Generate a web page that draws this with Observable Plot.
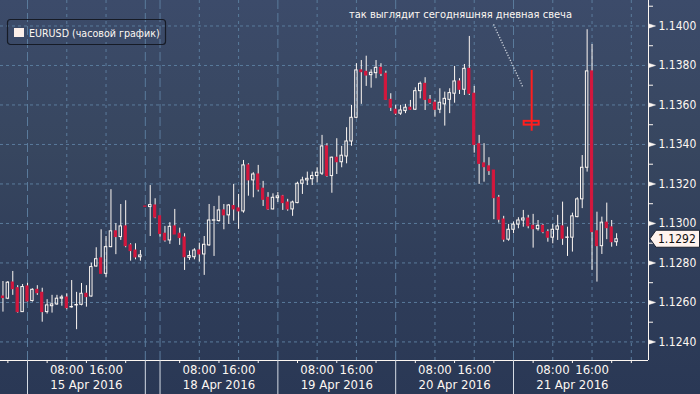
<!DOCTYPE html>
<html><head><meta charset="utf-8">
<script src="https://cdn.jsdelivr.net/npm/d3@7"></script>
<script src="https://cdn.jsdelivr.net/npm/@observablehq/plot@0.6"></script>
<style>
html,body{margin:0;padding:0;background:#2a3855;}
#chart{position:relative;width:700px;height:394px;overflow:hidden;
 background:linear-gradient(to bottom,#3c4b6a 0%,#37465f 38%,#303e5a 66%,#2a3855 100%);}
</style></head><body><div id="chart"></div>
<script>
// hourly slots: slot 0 = 15 Apr 2016 00:00; weekend compressed (17 Apr = slots 24-26)
const slots = [-5,-4,-3,-2,-1,0,1,2,3,4,5,6,7,8,9,10,11,12,13,14,15,16,17,18,19,20,21,22,23,24,25,26,27,28,29,30,31,32,33,34,35,36,37,38,39,40,41,42,43,44,45,46,47,48,49,50,51,52,53,54,55,56,57,58,59,60,61,62,63,64,65,66,67,68,69,70,71,72,73,74,75,76,77,78,79,80,81,82,83,84,85,86,87,88,89,90,91,92,93,94,95,96,97,98,99,100,101,102,103,104,105,106,107,108,109,110,111,112,113,114,115,116,117,118,119,120];
const open = [1.12630,1.12619,1.12701,1.12672,1.12551,1.12681,1.12607,1.12664,1.12649,1.12551,1.12581,1.12590,1.12619,1.12625,1.12575,1.12585,1.12588,1.12644,1.12630,1.12782,1.12823,1.12745,1.12880,1.12960,1.12931,1.12985,1.12889,1.12863,1.12829,1.13086,1.13083,1.13091,1.13036,1.12948,1.12914,1.12985,1.12948,1.12929,1.12826,1.12829,1.12863,1.12843,1.12889,1.13014,1.13012,1.13066,1.13041,1.13088,1.13076,1.13061,1.13294,1.13218,1.13248,1.13176,1.13130,1.13071,1.13128,1.13137,1.13106,1.13071,1.13103,1.13201,1.13218,1.13224,1.13240,1.13252,1.13390,1.13240,1.13333,1.13310,1.13339,1.13415,1.13535,1.13775,1.13768,1.13751,1.13761,1.13788,1.13758,1.13626,1.13576,1.13556,1.13569,1.13586,1.13576,1.13670,1.13707,1.13626,1.13611,1.13576,1.13603,1.13626,1.13657,1.13719,1.13677,1.13783,1.13657,1.13401,1.13304,1.13289,1.13268,1.13130,1.13020,1.12918,1.12968,1.12994,1.13015,1.13025,1.12988,1.12971,1.12988,1.12956,1.12928,1.12968,1.12985,1.12927,1.12928,1.13032,1.13122,1.13282,1.13770,1.12960,1.12885,1.13004,1.12980,1.12905];
const high = [1.12706,1.12706,1.12757,1.12685,1.12691,1.12698,1.12669,1.12685,1.12672,1.12614,1.12636,1.12636,1.12636,1.12644,1.12711,1.12651,1.12696,1.12685,1.12799,1.12877,1.12968,1.12934,1.13171,1.12999,1.13096,1.13115,1.12897,1.12897,1.12863,1.13086,1.13192,1.13125,1.13036,1.12985,1.13004,1.13071,1.12976,1.12948,1.12860,1.12872,1.12900,1.12934,1.13096,1.13086,1.13138,1.13096,1.13096,1.13198,1.13147,1.13319,1.13302,1.13257,1.13294,1.13213,1.13156,1.13150,1.13157,1.13142,1.13122,1.13113,1.13209,1.13234,1.13260,1.13260,1.13282,1.13446,1.13404,1.13336,1.13429,1.13390,1.13485,1.13598,1.13809,1.13825,1.13847,1.13778,1.13825,1.13809,1.13771,1.13657,1.13598,1.13598,1.13603,1.13623,1.13687,1.13716,1.13738,1.13648,1.13623,1.13682,1.13665,1.13682,1.13795,1.13733,1.13805,1.13947,1.13694,1.13446,1.13404,1.13333,1.13268,1.13142,1.13036,1.12995,1.13007,1.13029,1.13066,1.13041,1.13046,1.13015,1.12995,1.12968,1.12995,1.13041,1.13108,1.12981,1.13052,1.13130,1.13344,1.13981,1.13906,1.13057,1.13032,1.13103,1.13015,1.12948];
const low = [1.12551,1.12614,1.12636,1.12546,1.12550,1.12602,1.12602,1.12636,1.12500,1.12541,1.12546,1.12585,1.12581,1.12563,1.12571,1.12462,1.12583,1.12576,1.12627,1.12779,1.12745,1.12725,1.12877,1.12842,1.12914,1.12877,1.12809,1.12816,1.12809,1.13084,1.12934,1.13024,1.12931,1.12905,1.12894,1.12944,1.12889,1.12762,1.12813,1.12816,1.12804,1.12737,1.12884,1.12833,1.13007,1.12968,1.12995,1.13012,1.12970,1.13052,1.13138,1.13130,1.13159,1.13086,1.13066,1.13069,1.13106,1.13066,1.13062,1.13036,1.13100,1.13147,1.13192,1.13192,1.13206,1.13243,1.13234,1.13153,1.13248,1.13282,1.13302,1.13391,1.13530,1.13603,1.13694,1.13685,1.13733,1.13744,1.13623,1.13567,1.13547,1.13547,1.13556,1.13572,1.13572,1.13631,1.13572,1.13603,1.13538,1.13556,1.13493,1.13556,1.13609,1.13653,1.13648,1.13648,1.13356,1.13198,1.13209,1.13243,1.13019,1.13002,1.12905,1.12910,1.12948,1.12973,1.12981,1.12973,1.12875,1.12961,1.12948,1.12905,1.12897,1.12914,1.12889,1.12833,1.12855,1.13029,1.13075,1.13260,1.12762,1.12703,1.12843,1.12918,1.12880,1.12884];
const close = [1.12622,1.12700,1.12667,1.12551,1.12678,1.12605,1.12664,1.12647,1.12551,1.12585,1.12590,1.12619,1.12625,1.12571,1.12577,1.12587,1.12644,1.12627,1.12779,1.12819,1.12745,1.12880,1.12960,1.12931,1.12985,1.12885,1.12860,1.12828,1.12838,1.13084,1.13093,1.13030,1.12947,1.12914,1.12983,1.12944,1.12926,1.12829,1.12835,1.12863,1.12843,1.12892,1.13015,1.13016,1.13066,1.13041,1.13091,1.13071,1.13061,1.13294,1.13218,1.13248,1.13171,1.13120,1.13071,1.13130,1.13137,1.13103,1.13071,1.13106,1.13201,1.13218,1.13226,1.13240,1.13257,1.13390,1.13240,1.13333,1.13310,1.13343,1.13415,1.13535,1.13775,1.13766,1.13749,1.13763,1.13788,1.13758,1.13626,1.13586,1.13556,1.13572,1.13586,1.13576,1.13670,1.13707,1.13626,1.13611,1.13576,1.13611,1.13631,1.13660,1.13719,1.13677,1.13783,1.13657,1.13398,1.13302,1.13285,1.13265,1.13128,1.13019,1.12918,1.12968,1.12994,1.13015,1.13025,1.12986,1.12971,1.12988,1.12956,1.12928,1.12968,1.12985,1.12923,1.12929,1.13036,1.13122,1.13282,1.13770,1.12956,1.12885,1.13004,1.12976,1.12905,1.12920];

// axis ticks / labels
const priceTicks = [1.124,1.126,1.128,1.130,1.132,1.134,1.136,1.138,1.140];
const priceMinorTicks = [1.125,1.127,1.129,1.131,1.133,1.135,1.137,1.139,1.141];
const dayBounds = [0,24,27,51,75,99];
const hourGrid = [8,16,35,43,59,67,83,91,107,115,123];
const hourMinorTicks = [-4,4,12,20,31,39,47,55,63,71,79,87,95,103,111,119,123];
const hourLabelSlots = [8,16,35,43,59,67,83,91,107,115];
const hourLabels = ["08:00","16:00","08:00","16:00","08:00","16:00","08:00","16:00","08:00","16:00"];
const dayLabelSlots = [12,39,63,87,111];
const dayLabels = ["15 Apr 2016","18 Apr 2016","19 Apr 2016","20 Apr 2016","21 Apr 2016"];

// today's daily candle (annotation)
const dailySlot = [102.7];
const dailyOpen = [1.13517], dailyHigh = [1.13775], dailyLow = [1.13467], dailyClose = [1.13498];
const noteText = ["так выглядит сегодняшняя дневная свеча"];
const noteTextSlot = [88.2], noteTextPrice = [1.14058];
const noteLine = {x1: 94.93, y1: 1.14008, x2: 100.98, y2: 1.13687};

const legendLabel = "EURUSD (часовой график)";
const lastPrice = close[close.length - 1];

const WHITE = "#fdf7f2", RED = "#d5173d", GRID = "#5a7b9c", BRIGHT_RED = "#ff1e1e";
const FONT = "'Liberation Sans Narrow','DejaVu Sans Condensed','Liberation Sans',sans-serif";

const candles = slots.map((s, i) => ({s, o: open[i], h: high[i], l: low[i], c: close[i], up: close[i] >= open[i]}));
const daily = dailySlot.map((s, i) => ({s, o: dailyOpen[i], h: dailyHigh[i], l: dailyLow[i], c: dailyClose[i]}));
const notes = noteText.map((t, i) => ({t, x: noteTextSlot[i], y: noteTextPrice[i]}));
const hourLabelMap = new Map(hourLabelSlots.map((s, i) => [s, hourLabels[i]]));
const dayLabelMap = new Map(dayLabelSlots.map((s, i) => [s, dayLabels[i]]));

const xDomain = [-5.5, 126.5];
const yDomain = [1.12306, 1.14129];

const plot = Plot.plot({
  width: 700, height: 394,
  marginLeft: 0, marginRight: 52, marginTop: 0, marginBottom: 34,
  style: {background: "transparent", color: WHITE, fontFamily: FONT, fontSize: "13px", overflow: "visible"},
  x: {domain: xDomain, axis: null},
  y: {domain: yDomain, axis: null},
  marks: [
    Plot.ruleY(priceTicks, {stroke: GRID, strokeDasharray: "3,3"}),
    Plot.ruleX(hourGrid, {stroke: GRID, strokeDasharray: "3,4"}),
    Plot.ruleX(dayBounds, {stroke: GRID, strokeDasharray: "9,4"}),
    // wicks
    Plot.ruleX(candles, {x: "s", y1: d => Math.max(d.o, d.c), y2: "h", stroke: WHITE}),
    Plot.ruleX(candles, {x: "s", y1: "l", y2: d => Math.min(d.o, d.c), stroke: WHITE}),
    // bodies
    Plot.rect(candles.filter(d => d.up), {x1: d => d.s - 0.25, x2: d => d.s + 0.25, y1: "o", y2: "c", fill: "none", stroke: WHITE}),
    Plot.rect(candles.filter(d => !d.up), {x1: d => d.s - 0.22, x2: d => d.s + 0.22, y1: "o", y2: "c", fill: RED, stroke: RED}),
    // daily candle annotation
    Plot.ruleX(daily, {x: "s", y1: "l", y2: "h", stroke: BRIGHT_RED, strokeWidth: 2}),
    Plot.rect(daily, {x1: d => d.s - 1.53, x2: d => d.s + 1.53, y1: "o", y2: "c", fill: "none", stroke: BRIGHT_RED, strokeWidth: 2}),
    Plot.link([noteLine], {x1: "x1", y1: "y1", x2: "x2", y2: "y2", stroke: "#c9cfd9", strokeWidth: 1.4, strokeDasharray: "1.2,1.6"}),
    Plot.text(notes, {x: "x", y: "y", text: "t", fill: WHITE, fontSize: 11, textAnchor: "middle"}),
    // axis frame lines
    Plot.ruleX([xDomain[1]], {stroke: WHITE}),
    Plot.ruleY([yDomain[0]], {stroke: WHITE}),
    // right axis
    Plot.axisY({anchor: "right", ticks: priceMinorTicks, tickSize: 4, tickFormat: () => ""}),
    Plot.vector(priceTicks, {x: xDomain[1], y: d => d, length: 7, rotate: 90, shape: "spike", r: 2.2, anchor: "start", fill: WHITE, stroke: WHITE, strokeWidth: 0.5}),
    Plot.axisY({anchor: "right", ticks: priceTicks, tickSize: 0, tickPadding: 10, tickFormat: d => d.toFixed(4), fontSize: 12}),
    // bottom axis
    Plot.axisX({ticks: hourMinorTicks, tickSize: 3, tickFormat: () => ""}),
    Plot.axisX({ticks: dayBounds, tickSize: 34, tickFormat: () => "", stroke: "#d5dbe4"}),
    Plot.axisX({ticks: hourLabelSlots, tickSize: 0, tickPadding: 4, tickFormat: d => hourLabelMap.get(d), fontSize: 13}),
    Plot.axisX({ticks: dayLabelSlots, tickSize: 0, tickPadding: 19, tickFormat: d => dayLabelMap.get(d), fontSize: 13})
  ]
});

document.getElementById("chart").appendChild(plot);

// last price marker (positioned via the plot's y scale)
const svg = d3.select(plot);
const yLast = plot.scale("y").apply(lastPrice);
const xAxis = plot.scale("x").apply(xDomain[1]);
const g = svg.append("g");
g.append("path")
  .attr("d", `M${xAxis + 2},${yLast} L${xAxis + 8},${yLast - 8.5} L699.5,${yLast - 8.5} L699.5,${yLast + 8.5} L${xAxis + 8},${yLast + 8.5} Z`)
  .attr("fill", "#fff3ee").attr("stroke", "#1b2130").attr("stroke-width", 1);
g.append("text").attr("x", xAxis + 10).attr("y", yLast).attr("dy", "0.35em")
  .attr("text-anchor", "start")
  .attr("fill", "#111").attr("font-size", 12).attr("font-family", FONT).text(lastPrice.toFixed(4));

// legend box (top-left, inside the plot)
const lg = svg.append("g");
lg.append("rect").attr("x", 7.5).attr("y", 19.5).attr("width", 158).attr("height", 25).attr("rx", 3)
  .attr("fill", "none").attr("stroke", "#161b26").attr("stroke-width", 1.2);
lg.append("rect").attr("x", 14).attr("y", 28).attr("width", 10).attr("height", 9).attr("fill", "#fcefe9");
lg.append("text").attr("x", 29).attr("y", 33).attr("dy", "0.35em").attr("fill", WHITE)
  .attr("text-anchor", "start")
  .attr("font-size", 10.6).attr("font-family", FONT).text(legendLabel);
</script></body></html>
